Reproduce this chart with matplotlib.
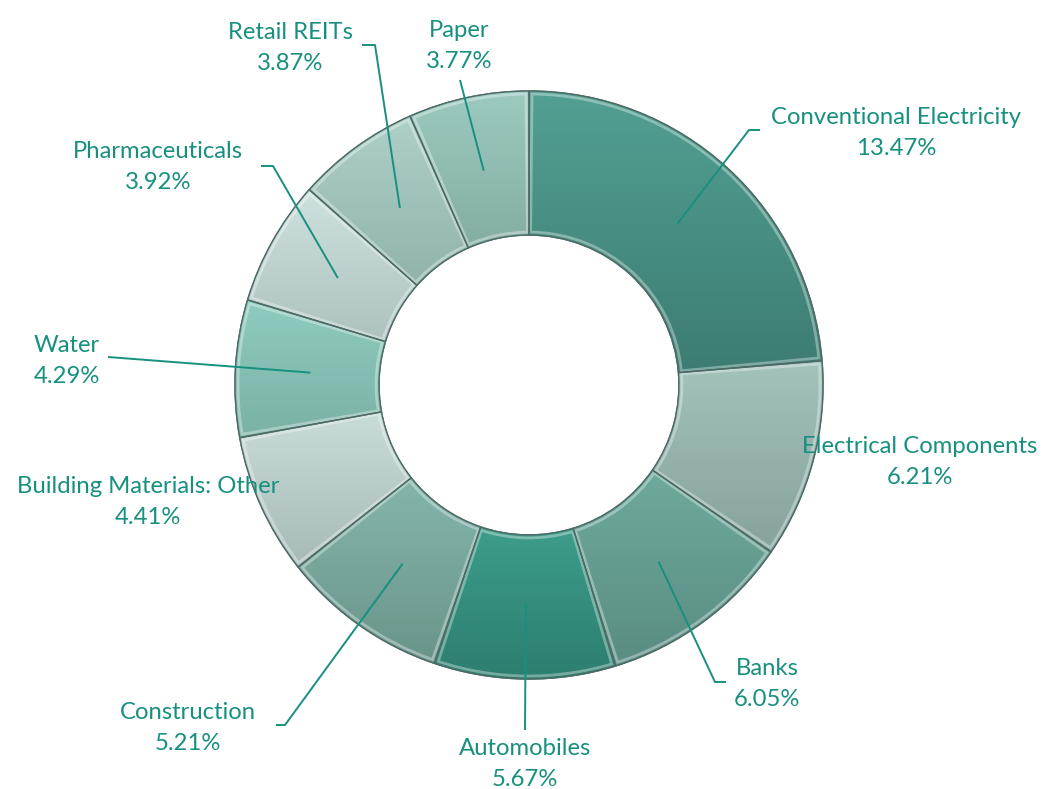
import numpy as np
import matplotlib
matplotlib.use('Agg')
import matplotlib.pyplot as plt
from matplotlib.colors import LinearSegmentedColormap

W, H = 1044, 789

# sector weights (%)
sectors = ['Conventional Electricity', 'Electrical Components', 'Banks', 'Automobiles',
           'Construction', 'Building Materials: Other', 'Water', 'Pharmaceuticals',
           'Retail REITs', 'Paper']
weights = [13.47, 6.21, 6.05, 5.67, 5.21, 4.41, 4.29, 3.92, 3.87, 3.77]

# top / bottom shade of each slice
tops = ['#52a093', '#a3c3bb', '#6eaa9d', '#3d9d8b', '#84b6ac',
        '#cadcd8', '#8ecbbe', '#cde2de', '#aed0c8', '#9ccac0']
bots = ['#3d7c71', '#86a29c', '#5a8c82', '#2d7e6f', '#6a948b',
        '#a8bab7', '#7bb1a6', '#adc2bf', '#90b3ab', '#84ada4']

TXT = '#17907f'
plt.rcParams['font.family'] = ['Lato', 'DejaVu Sans']

fig = plt.figure(figsize=(W / 100, H / 100), dpi=100)
ax = fig.add_axes([0, 0, 1, 1])

cx, cy = 529, H - 385
R = 294
ring = 0.49

wedges, _ = ax.pie(weights, radius=R, center=(cx, cy), startangle=90, counterclock=False,
                   wedgeprops=dict(width=R * ring, edgecolor='#4d6b66', linewidth=1.0))

# vertical gradient inside each slice
grad = np.linspace(1, 0, 256).reshape(-1, 1)
for w, t, b in zip(wedges, tops, bots):
    w.set_facecolor(b)
    cmap = LinearSegmentedColormap.from_list('g', [b, t])
    bb = w.get_path().get_extents(w.get_transform()).transformed(ax.transData.inverted())
    im = ax.imshow(grad, cmap=cmap, extent=[bb.x0, bb.x1, bb.y0, bb.y1],
                   aspect='auto', zorder=w.get_zorder() + 0.1, interpolation='bilinear')
    im.set_clip_path(w)
    # light bevel on the outline
    ax.add_patch(matplotlib.patches.Wedge((cx, cy), R - 3, w.theta1 + 0.6, w.theta2 - 0.6,
                 width=R * ring - 6, facecolor='none', edgecolor='white', alpha=0.35,
                 linewidth=2.0, zorder=w.get_zorder() + 0.2))
    ax.add_patch(matplotlib.patches.Wedge((cx, cy), R, w.theta1, w.theta2,
                 width=R * ring, facecolor='none', edgecolor='#4d6b66',
                 linewidth=1.0, zorder=w.get_zorder() + 0.3))

# label centres (pixels, from top) and leader bends
label_pos = [(896, 133), (920, 462), (767, 684), (525, 764), (188, 728),
             (148, 502), (67, 361), (158, 167), (290, 48), (459, 46)]
leader_pts = [[(749, 130), (760, 130)], None, [(715, 682), (726, 682)], [(525, 730)],
              [(285, 725), (276, 725)], None, [(108, 357)], [(273, 166), (261, 166)],
              [(375, 45), (362, 45)], [(460, 80)]]

for w, name, val, (lx, ly), pts in zip(wedges, sectors, weights, label_pos, leader_pts):
    ax.text(lx, H - ly, f'{name}\n{val:.2f}%', ha='center', va='center',
            fontsize=17.2, color=TXT, linespacing=1.62, zorder=10)
    if pts is None:
        continue
    mid = np.deg2rad((w.theta1 + w.theta2) / 2)
    xs = [cx + 0.745 * R * np.cos(mid)] + [p[0] for p in pts]
    ys = [cy + 0.745 * R * np.sin(mid)] + [H - p[1] for p in pts]
    ax.plot(xs, ys, color=TXT, lw=1.4, zorder=9, solid_capstyle='butt')

ax.set_xlim(0, W)
ax.set_ylim(0, H)
ax.set_aspect('equal')
ax.axis('off')
fig.savefig('out.png', dpi=100)
